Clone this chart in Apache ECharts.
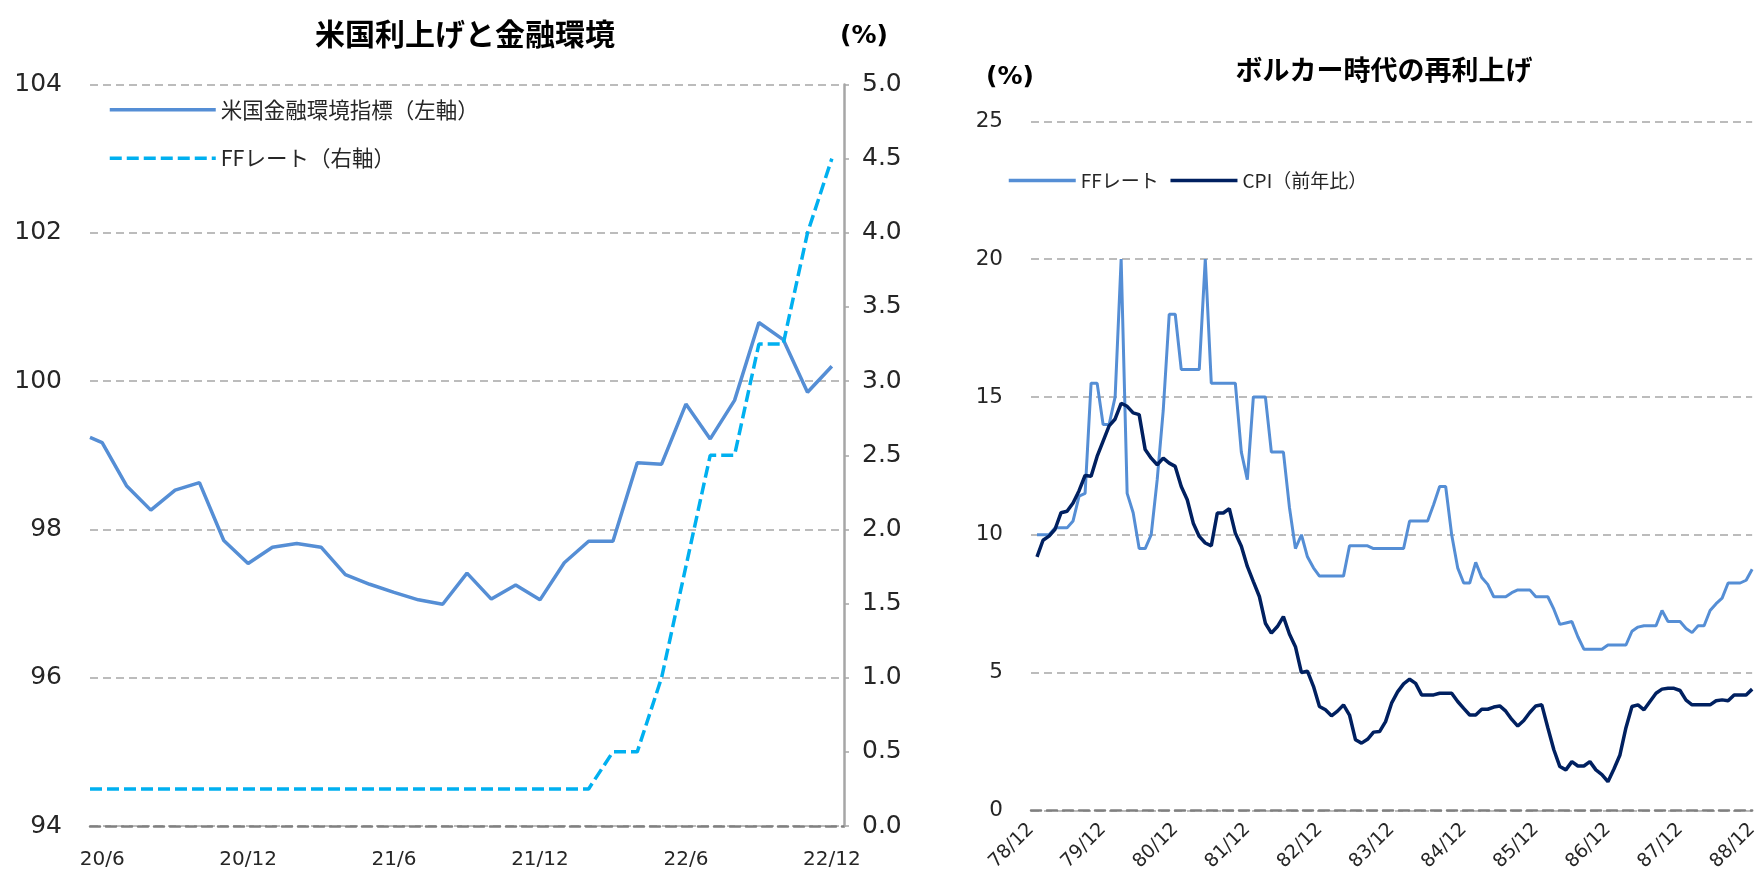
<!DOCTYPE html>
<html><head><meta charset="utf-8">
<script src="https://cdn.jsdelivr.net/npm/echarts/dist/echarts.min.js"></script>
<style>html,body{margin:0;padding:0;background:#fff}#c{width:1761px;height:892px}</style>
</head><body><div id="c"></div>
<script>
// ---------- Left chart: 米国利上げと金融環境 ----------
// x = months after 2020/6 (first point is half a month earlier)
const finX = [-0.5, 0, 1, 2, 3, 4, 5, 6, 7, 8, 9, 10, 11, 12, 13, 14, 15, 16, 17, 18, 19, 20, 21, 22, 23, 24, 25, 26, 27, 28, 29, 30];
const finConditions = [99.24, 99.17, 98.59, 98.26, 98.53, 98.63, 97.85, 97.54, 97.76, 97.81, 97.76, 97.39, 97.26, 97.15, 97.05, 96.99,
  97.41, 97.06, 97.25, 97.05, 97.55, 97.84, 97.84, 98.90, 98.88, 99.69, 99.22, 99.74, 100.79, 100.56, 99.85, 100.2];
const ffRecent = [0.25, 0.25, 0.25, 0.25, 0.25, 0.25, 0.25, 0.25, 0.25, 0.25, 0.25, 0.25, 0.25, 0.25, 0.25, 0.25,
  0.25, 0.25, 0.25, 0.25, 0.25, 0.25, 0.5, 0.5, 1.0, 1.75, 2.5, 2.5, 3.25, 3.25, 4.0, 4.5];
const leftTickValues = [0, 6, 12, 18, 24, 30];
const leftTickLabels = ['20/6', '20/12', '21/6', '21/12', '22/6', '22/12'];

// ---------- Right chart: ボルカー時代の再利上げ ----------
const volckerStartYear = 1978, volckerStartMonth = 12, volckerMonthsCount = 121; // 78/12 .. 88/12
const ffVolcker = [null,
  10.0, 10.0, 10.0, 10.25, 10.25, 10.25, 10.5, 11.4, 11.5, 15.5, 15.5, 14.0,
  14.0, 15.0, 20.0, 11.5, 10.8, 9.5, 9.5, 10.0, 12.0, 14.5, 18.0, 18.0,
  16.0, 16.0, 16.0, 16.0, 20.0, 15.5, 15.5, 15.5, 15.5, 15.5, 13.0, 12.0,
  15.0, 15.0, 15.0, 13.0, 13.0, 13.0, 11.0, 9.5, 10.0, 9.2, 8.8, 8.5,
  8.5, 8.5, 8.5, 8.5, 9.6, 9.6, 9.6, 9.6, 9.5, 9.5, 9.5, 9.5,
  9.5, 9.5, 10.5, 10.5, 10.5, 10.5, 11.1, 11.75, 11.75, 10.0, 8.8, 8.25,
  8.25, 9.0, 8.45, 8.2, 7.75, 7.75, 7.75, 7.9, 8.0, 8.0, 8.0, 7.75,
  7.75, 7.75, 7.3, 6.75, 6.8, 6.85, 6.3, 5.85, 5.85, 5.85, 5.85, 6.0,
  6.0, 6.0, 6.0, 6.5, 6.65, 6.7, 6.7, 6.7, 7.25, 6.85, 6.85, 6.85,
  6.6, 6.45, 6.7, 6.7, 7.25, 7.5, 7.7, 8.25, 8.25, 8.25, 8.35, 8.75];
const cpiVolcker = [null,
  9.2, 9.8, 9.95, 10.2, 10.8, 10.85, 11.15, 11.6, 12.15, 12.12, 12.84, 13.4,
  13.95, 14.2, 14.77, 14.66, 14.42, 14.36, 13.09, 12.78, 12.54, 12.78, 12.6, 12.48,
  11.75, 11.27, 10.42, 9.94, 9.7, 9.6, 10.79, 10.79, 10.95, 10.06, 9.58, 8.85,
  8.3, 7.76, 6.79, 6.43, 6.67, 7.03, 6.4, 5.94, 5.0, 5.05, 4.5, 3.77,
  3.65, 3.43, 3.6, 3.83, 3.46, 2.56, 2.44, 2.58, 2.84, 2.86, 3.22, 3.89,
  4.3, 4.59, 4.76, 4.61, 4.19, 4.19, 4.19, 4.25, 4.25, 4.25, 3.95, 3.7,
  3.46, 3.46, 3.67, 3.67, 3.75, 3.79, 3.6, 3.3, 3.06, 3.26, 3.55, 3.79,
  3.83, 3.0, 2.2, 1.59, 1.47, 1.77, 1.61, 1.61, 1.77, 1.47, 1.3, 1.04,
  1.5, 2.01, 3.0, 3.77, 3.83, 3.65, 3.95, 4.25, 4.4, 4.43, 4.43, 4.35,
  4.0, 3.83, 3.83, 3.83, 3.83, 3.98, 4.01, 3.98, 4.19, 4.19, 4.19, 4.4];

const volckerMonths = [];
for (let i = 0; i < volckerMonthsCount; i++) {
  const t = volckerStartYear * 12 + (volckerStartMonth - 1) + i;
  volckerMonths.push(String(Math.floor(t / 12) % 100).padStart(2, '0') + '/' + (t % 12 + 1));
}

const JP = '"Noto Sans CJK JP", "Noto Sans", sans-serif';
const NUM = '"DejaVu Sans", "Noto Sans", sans-serif';
const GRID_LINE = { show: true, lineStyle: { color: '#a6a6a6', width: 1.5, type: [8, 5] } };
const BASE_LINE = { show: true, lineStyle: { color: '#808080', width: 2.5, type: [10, 6] } };
const HIDE_SYMBOL = { opacity: 0, color: 'rgba(0,0,0,0)', borderWidth: 0 };

const chart = echarts.init(document.getElementById('c'));
chart.setOption({
  animation: false,
  backgroundColor: '#fff',
  graphic: [
    { type: 'text', x: 465, y: 34, style: { text: '米国利上げと金融環境', font: 'bold 30px ' + JP, fill: '#000', align: 'center', verticalAlign: 'middle', textAlign: 'center', textVerticalAlign: 'middle' } },
    { type: 'text', x: 864, y: 36, style: { text: '(%)', font: 'bold 25px ' + NUM, fill: '#000', align: 'center', verticalAlign: 'middle', textAlign: 'center', textVerticalAlign: 'middle' } },
    { type: 'text', x: 1384, y: 70, style: { text: 'ボルカー時代の再利上げ', font: 'bold 27px ' + JP, fill: '#000', align: 'center', verticalAlign: 'middle', textAlign: 'center', textVerticalAlign: 'middle' } },
    { type: 'text', x: 1010, y: 77, style: { text: '(%)', font: 'bold 25px ' + NUM, fill: '#000', align: 'center', verticalAlign: 'middle', textAlign: 'center', textVerticalAlign: 'middle' } }
  ],
  legend: [
    { data: ['米国金融環境指標（左軸）', 'FFレート（右軸）'], orient: 'vertical', left: 103, top: 94,
      itemWidth: 106, itemHeight: 20, itemGap: 27, itemStyle: HIDE_SYMBOL, lineStyle: { width: 3.5 },
      textStyle: { fontFamily: JP, fontSize: 21.5, color: '#262626' } },
    { data: ['FFレート', 'CPI（前年比）'], orient: 'horizontal', left: 1002, top: 166,
      itemWidth: 67, itemHeight: 18, itemGap: 10, itemStyle: HIDE_SYMBOL, lineStyle: { width: 3.5 },
      textStyle: { fontFamily: JP, fontSize: 19, color: '#262626' } }
  ],
  grid: [
    { left: 90, right: 917, top: 84.5, bottom: 66, containLabel: false },
    { left: 1031, right: 3.6, top: 121.3, bottom: 81.6, containLabel: false }
  ],
  xAxis: [
    { type: 'value', gridIndex: 0, min: -0.5, max: 30.5,
      axisLine: BASE_LINE, axisTick: { show: false }, splitLine: { show: false },
      axisLabel: { customValues: leftTickValues, margin: 24, fontFamily: NUM, fontSize: 20, color: '#262626',
        formatter: v => leftTickLabels[leftTickValues.indexOf(v)] || '' } },
    { type: 'category', gridIndex: 1, data: volckerMonths, boundaryGap: false,
      axisLine: BASE_LINE, axisTick: { show: false }, splitLine: { show: false },
      axisLabel: { interval: (i) => i % 12 === 0, rotate: 45, margin: 16, fontFamily: NUM, fontSize: 19, color: '#262626' } }
  ],
  yAxis: [
    { type: 'value', gridIndex: 0, min: 94, max: 104, interval: 2, position: 'left',
      axisLine: { show: false }, axisTick: { show: false }, splitLine: GRID_LINE,
      axisLabel: { margin: 28, fontFamily: NUM, fontSize: 25, color: '#262626' } },
    { type: 'value', gridIndex: 0, min: 0, max: 5, interval: 0.5, position: 'right',
      axisLine: { show: true, lineStyle: { color: '#a6a6a6', width: 2.5 } },
      axisTick: { show: true, length: 5, lineStyle: { color: '#a6a6a6', width: 1.5 } },
      splitLine: { show: false },
      axisLabel: { margin: 18, fontFamily: NUM, fontSize: 25, color: '#262626', formatter: v => v.toFixed(1) } },
    { type: 'value', gridIndex: 1, min: 0, max: 25, interval: 5,
      axisLine: { show: false }, axisTick: { show: false }, splitLine: GRID_LINE,
      axisLabel: { margin: 28, fontFamily: NUM, fontSize: 21.5, color: '#262626' } }
  ],
  series: [
    { name: '米国金融環境指標（左軸）', type: 'line', xAxisIndex: 0, yAxisIndex: 0, symbol: 'none',
      data: finX.map((x, i) => [x, finConditions[i]]),
      lineStyle: { color: '#558ED5', width: 3.5 }, itemStyle: { color: '#558ED5' } },
    { name: 'FFレート（右軸）', type: 'line', xAxisIndex: 0, yAxisIndex: 1, symbol: 'none',
      data: finX.map((x, i) => [x, ffRecent[i]]),
      lineStyle: { color: '#00B0F0', width: 3.5, type: [12, 5] }, itemStyle: { color: '#00B0F0' } },
    { name: 'FFレート', type: 'line', xAxisIndex: 1, yAxisIndex: 2, symbol: 'none',
      data: ffVolcker, lineStyle: { color: '#558ED5', width: 3 }, itemStyle: { color: '#558ED5' } },
    { name: 'CPI（前年比）', type: 'line', xAxisIndex: 1, yAxisIndex: 2, symbol: 'none',
      data: cpiVolcker, lineStyle: { color: '#002060', width: 3.5 }, itemStyle: { color: '#002060' } }
  ]
});
</script>
</body></html>
